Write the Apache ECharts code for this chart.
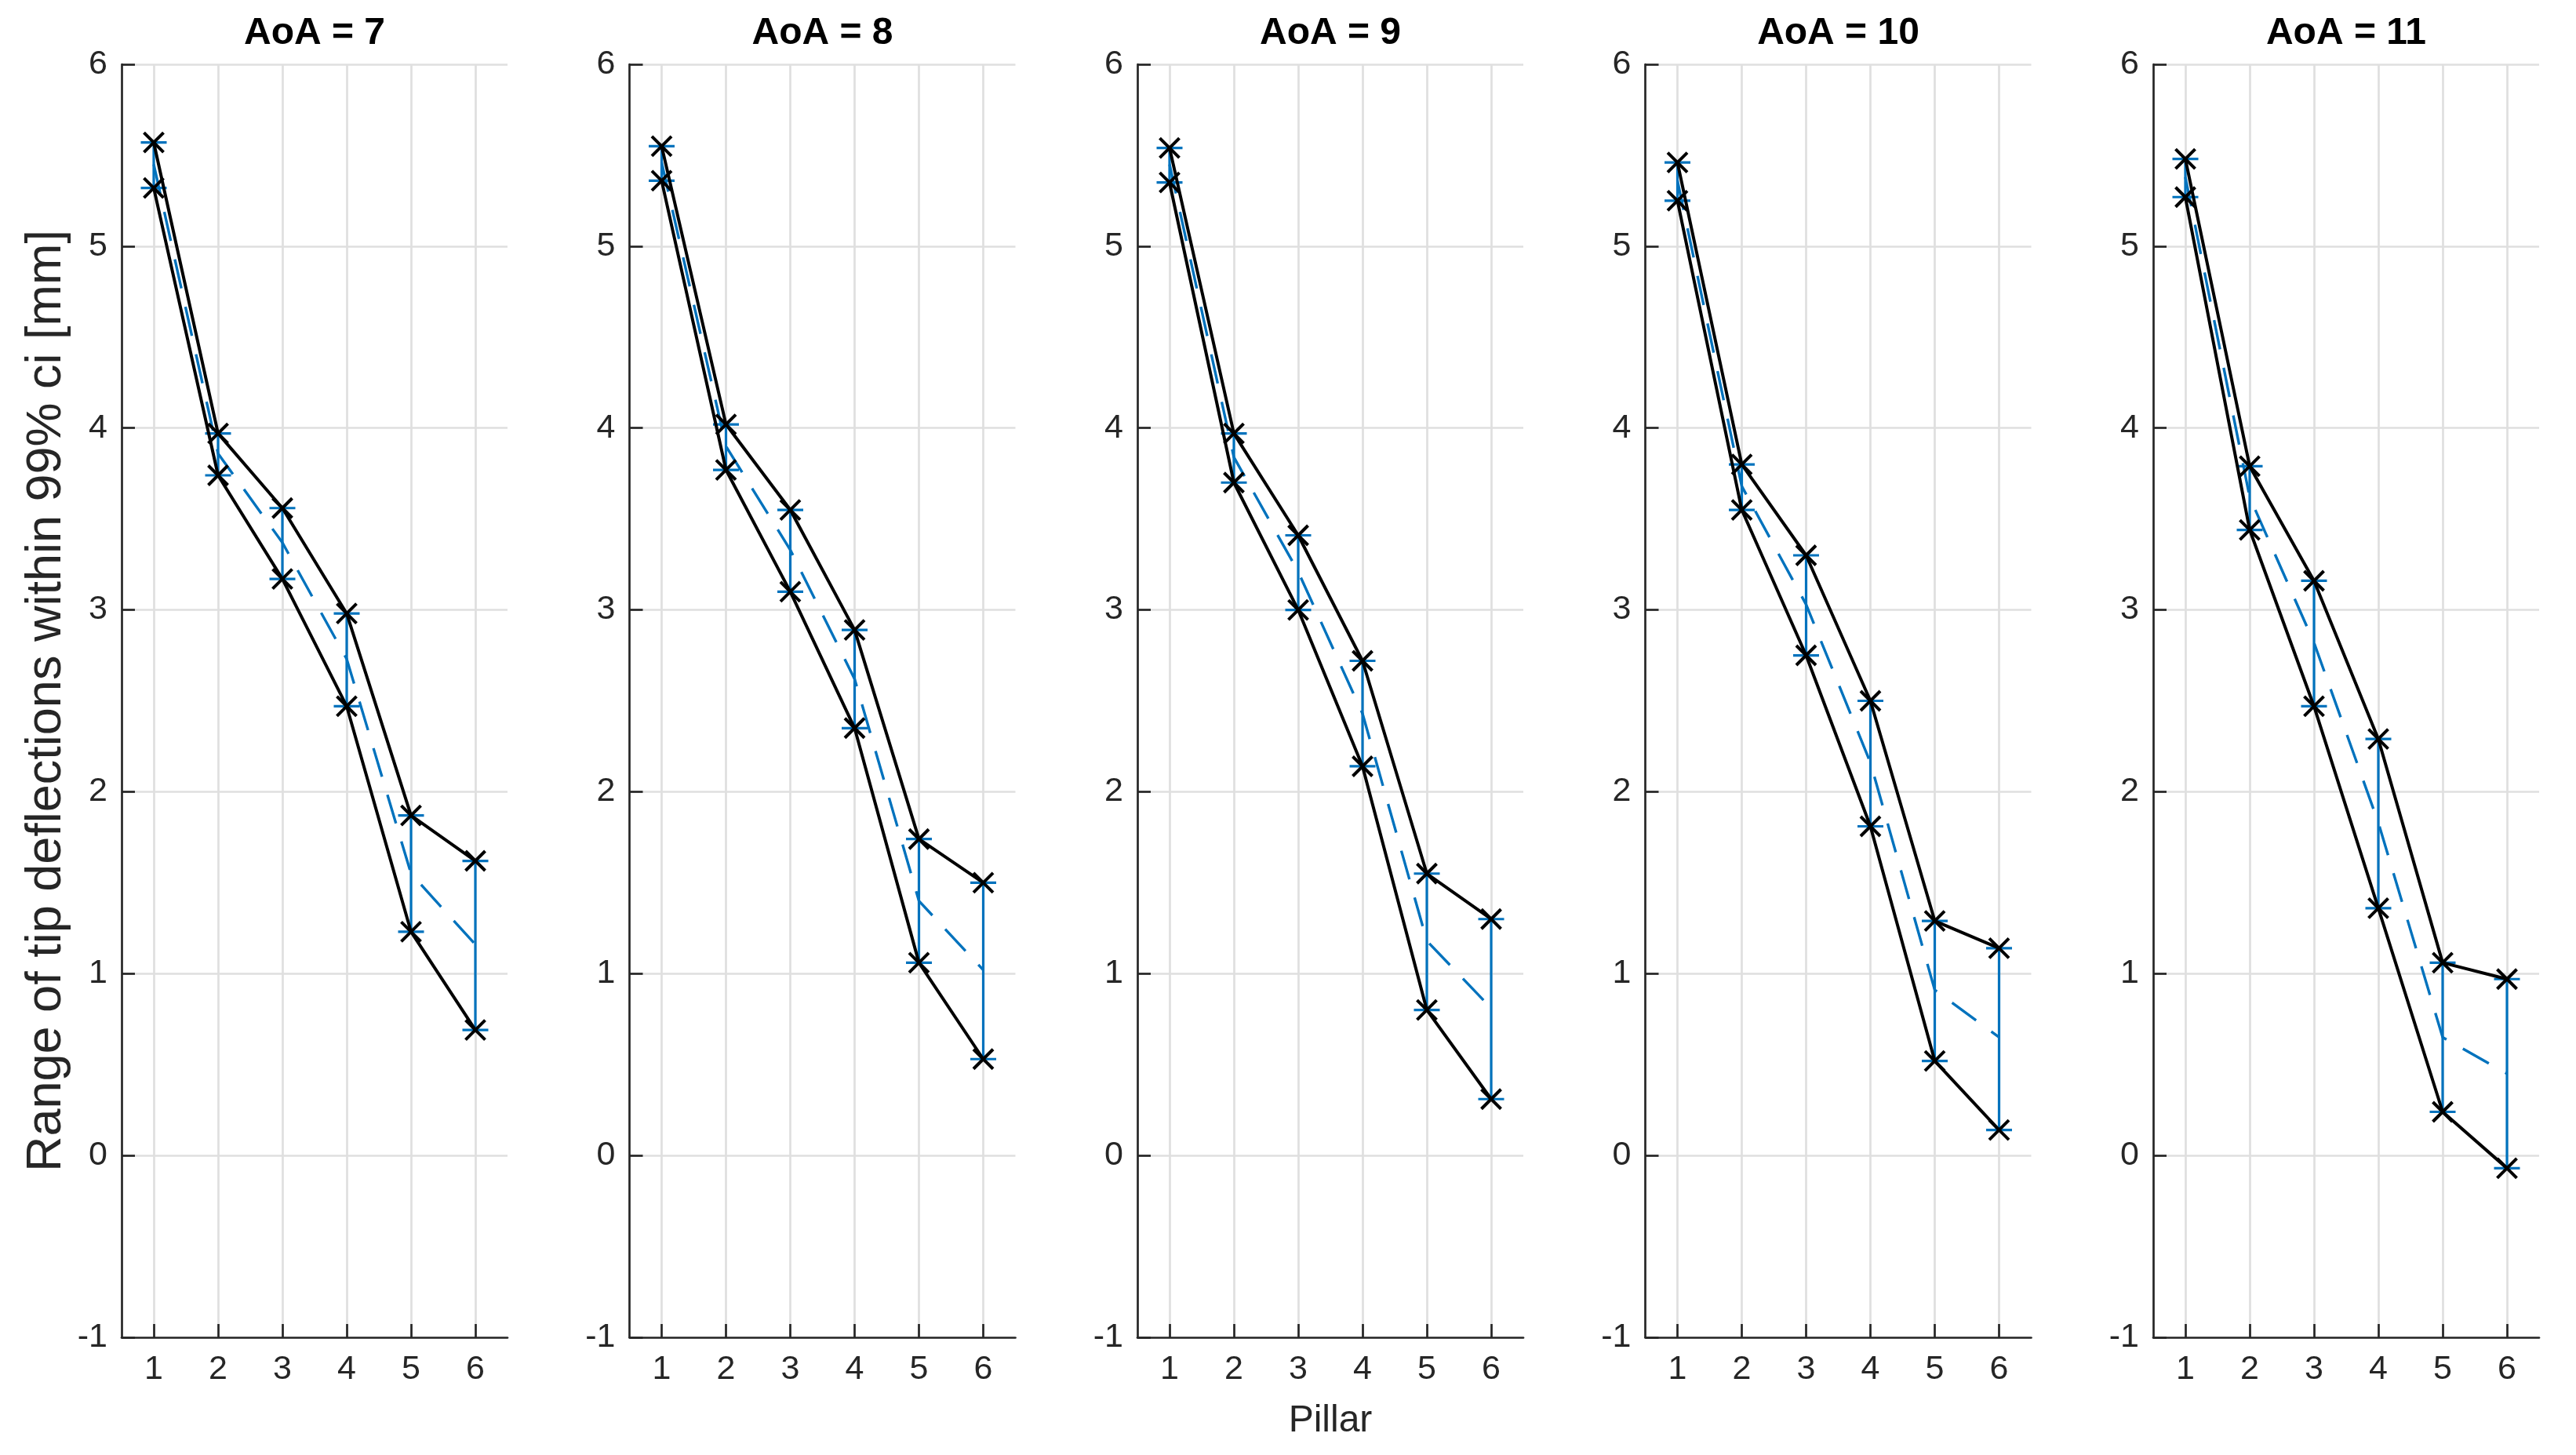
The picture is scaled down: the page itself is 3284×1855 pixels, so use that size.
<!DOCTYPE html>
<html><head><meta charset="utf-8">
<script src="https://cdn.jsdelivr.net/npm/echarts@6/dist/echarts.min.js"></script>
<style>html,body{margin:0;padding:0;background:#fff}#c{width:3284px;height:1855px}</style>
</head><body><div id="c"></div>
<script>
// ---- data ----
const pillars = [1, 2, 3, 4, 5, 6];
const aoaValues = [7, 8, 9, 10, 11];
const yTicks = [-1, 0, 1, 2, 3, 4, 5, 6];

const upperAoA7 = [5.57, 3.97, 3.56, 2.98, 1.87, 1.62];
const lowerAoA7 = [5.32, 3.74, 3.17, 2.47, 1.23, 0.69];
const meanAoA7  = [5.45, 3.86, 3.37, 2.73, 1.55, 1.16];

const upperAoA8 = [5.55, 4.02, 3.55, 2.89, 1.74, 1.50];
const lowerAoA8 = [5.36, 3.77, 3.10, 2.35, 1.06, 0.53];
const meanAoA8  = [5.46, 3.90, 3.33, 2.62, 1.40, 1.02];

const upperAoA9 = [5.54, 3.97, 3.41, 2.72, 1.55, 1.30];
const lowerAoA9 = [5.35, 3.70, 3.00, 2.14, 0.80, 0.31];
const meanAoA9  = [5.45, 3.84, 3.21, 2.43, 1.18, 0.81];

const upperAoA10 = [5.46, 3.80, 3.30, 2.50, 1.29, 1.14];
const lowerAoA10 = [5.25, 3.55, 2.75, 1.81, 0.52, 0.14];
const meanAoA10  = [5.36, 3.68, 3.03, 2.16, 0.91, 0.65];

const upperAoA11 = [5.48, 3.79, 3.16, 2.29, 1.06, 0.97];
const lowerAoA11 = [5.27, 3.44, 2.47, 1.36, 0.24, -0.07];
const meanAoA11  = [5.38, 3.62, 2.82, 1.83, 0.65, 0.45];

const yLabelText = 'Range of tip deflections within 99% ci [mm]';
const xLabelText = 'Pillar';

// ---- layout / style ----
const panels = [
  [upperAoA7, lowerAoA7, meanAoA7],
  [upperAoA8, lowerAoA8, meanAoA8],
  [upperAoA9, lowerAoA9, meanAoA9],
  [upperAoA10, lowerAoA10, meanAoA10],
  [upperAoA11, lowerAoA11, meanAoA11]
];
const FONT = '"Liberation Sans", Arial, Helvetica, sans-serif';
const AX = '#262626', GRIDC = '#dfdfdf', BLUE = '#0072BD';
const gTop = 82, gH = 1623, gW = 492, gLeft0 = 155, gStep = 647.5;

const grids = [], xAxes = [], yAxes = [], series = [], graphics = [];
panels.forEach(([up, lo, mn], i) => {
  const left = gLeft0 + i * gStep;
  grids.push({left: left, top: gTop, width: gW, height: gH, show: false});
  xAxes.push({
    gridIndex: i, type: 'value', min: 0.5, max: 6.5,
    axisLine: {show: true, onZero: false, lineStyle: {color: AX, width: 2.7}},
    axisTick: {show: true, inside: true, length: 17, customValues: pillars, lineStyle: {color: AX, width: 2.7}},
    axisLabel: {show: true, customValues: pillars, color: AX, fontSize: 43, fontFamily: FONT, margin: 20},
    splitLine: {show: true, lineStyle: {color: GRIDC, width: 2.7}},
    name: i === 2 ? xLabelText : '', nameLocation: 'middle', nameGap: 107,
    nameTextStyle: {fontSize: 48, fontFamily: FONT, color: AX, verticalAlign: 'middle'}
  });
  yAxes.push({
    gridIndex: i, type: 'value', min: yTicks[0], max: yTicks[yTicks.length - 1], interval: 1,
    axisLine: {show: true, onZero: false, lineStyle: {color: AX, width: 2.7}},
    axisTick: {show: true, inside: true, length: 17, lineStyle: {color: AX, width: 2.7}},
    axisLabel: {show: true, color: AX, fontSize: 43, fontFamily: FONT, margin: 18},
    splitLine: {show: true, lineStyle: {color: GRIDC, width: 2.7}}
  });
  // error bars (lower..upper) with caps
  series.push({
    type: 'custom', xAxisIndex: i, yAxisIndex: i, z: 2, silent: true,
    data: pillars.map((p, k) => [p, lo[k], up[k]]),
    encode: {x: 0, y: [1, 2]},
    renderItem: (params, api) => {
      const x = api.value(0);
      const pLo = api.coord([x, api.value(1)]);
      const pHi = api.coord([x, api.value(2)]);
      const hw = 16.5;
      const st = {stroke: BLUE, lineWidth: 3.2, fill: null};
      return {type: 'group', children: [
        {type: 'line', shape: {x1: pLo[0], y1: pLo[1], x2: pHi[0], y2: pHi[1]}, style: st},
        {type: 'line', shape: {x1: pLo[0] - hw, y1: pLo[1], x2: pLo[0] + hw, y2: pLo[1]}, style: st},
        {type: 'line', shape: {x1: pHi[0] - hw, y1: pHi[1], x2: pHi[0] + hw, y2: pHi[1]}, style: st}
      ]};
    }
  });
  series.push({
    type: 'line', xAxisIndex: i, yAxisIndex: i, z: 3, symbol: 'none', silent: true,
    data: pillars.map((p, k) => [p, mn[k]]),
    lineStyle: {color: BLUE, width: 3.4, type: [38, 24]}
  });
  [up, lo].forEach(arr => {
    series.push({
      type: 'line', xAxisIndex: i, yAxisIndex: i, z: 4, silent: true,
      data: pillars.map((p, k) => [p, arr[k]]),
      lineStyle: {color: '#000', width: 4},
      symbol: 'path://M0,0L10,10M10,0L0,10', symbolSize: 25,
      itemStyle: {color: 'none', borderColor: '#000', borderWidth: 4}
    });
  });
  graphics.push({
    type: 'text', x: left + gW / 2, y: 43,
    style: {text: 'AoA = ' + aoaValues[i], fontSize: 48, fontWeight: 'bold', fontFamily: FONT,
            fill: '#000', textAlign: 'center', textVerticalAlign: 'middle'}
  });
});
graphics.push({
  type: 'text', x: 60, y: gTop + gH / 2, rotation: Math.PI / 2,
  style: {text: yLabelText, fontSize: 63, fontFamily: FONT, fill: AX,
          textAlign: 'center', textVerticalAlign: 'middle'}
});

const chart = echarts.init(document.getElementById('c'), null, {renderer: 'canvas'});
chart.setOption({
  animation: false,
  backgroundColor: '#fff',
  grid: grids, xAxis: xAxes, yAxis: yAxes, series: series,
  graphic: graphics
});
</script></body></html>
